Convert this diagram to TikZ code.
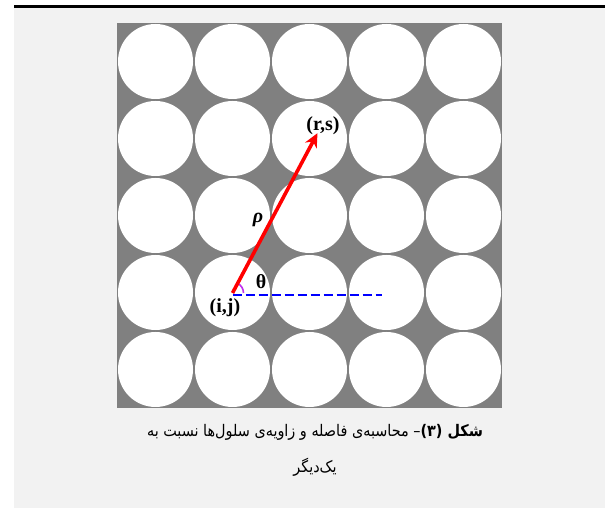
\documentclass[tikz,border=0pt]{standalone}
\usepackage{fontspec}
\setmainfont{Liberation Serif}
\newfontfamily\arabicfont[Script=Arabic]{DejaVu Sans Condensed}
\TeXXeTstate=1
\usetikzlibrary{arrows.meta,positioning,calc}
\definecolor{cBack}{HTML}{F2F2F2}
\definecolor{cGrid}{HTML}{808080}
\definecolor{cArc}{HTML}{C030F0}

\begin{document}
\begin{tikzpicture}[x=1pt,y=1pt,>=Stealth,
   cell/.style={fill=white,draw=none},
   lbl/.style={font=\fontsize{20}{22}\selectfont\bfseries,inner sep=1pt},
   captext/.style={font=\fontsize{16}{20}\selectfont\arabicfont,inner sep=0pt}]
  \useasboundingbox (0,0) rectangle (605,508);
  \fill[cBack] (14,0) rectangle (605,500);
  \fill[black] (14,500) rectangle (605,502.5);
  % grid of cells
  \fill[cGrid] (117,100) rectangle (502,485);
  \foreach \i in {0,...,4}
    \foreach \j in {0,...,4}
      \fill[cell] (155.5+77*\i,446.5-77*\j) circle[radius=37.5];
  % cell positions
  \coordinate (ij) at (232.5,215);
  \coordinate (rs) at ($(ij)+(62:181)$);
  \coordinate (ref) at (382,213);
  \draw[blue,line width=2.6pt,dash pattern=on 9pt off 4pt] (ij) ++(0,-2) -- (ref);
  \draw[cArc,line width=1.6pt] ($(ij)+(0:11)$) arc[start angle=0,end angle=62,radius=11];
  \draw[->,red,line width=3.6pt,-{Stealth[length=14pt,width=13pt]}] (ij) -- (rs);
  \node[lbl] (rsl) at (323,382) {(r,s)};
  \node[lbl] (ijl) at (225,200) {(i,j)};
  \node[lbl] (rho) at (258,288) {\textit{ρ}};
  \node[lbl] (th) at (261,226) {θ};
  % caption
  \node[captext] (cap1) at (315,76) {\beginR\textbf{شکل (۳)}– محاسبه‌ی فاصله و زاویه‌ی سلول‌ها نسبت به\endR};
  \node[captext,below=18pt of cap1] (cap2) {\beginR یک‌دیگر\endR};
\end{tikzpicture}
\end{document}
